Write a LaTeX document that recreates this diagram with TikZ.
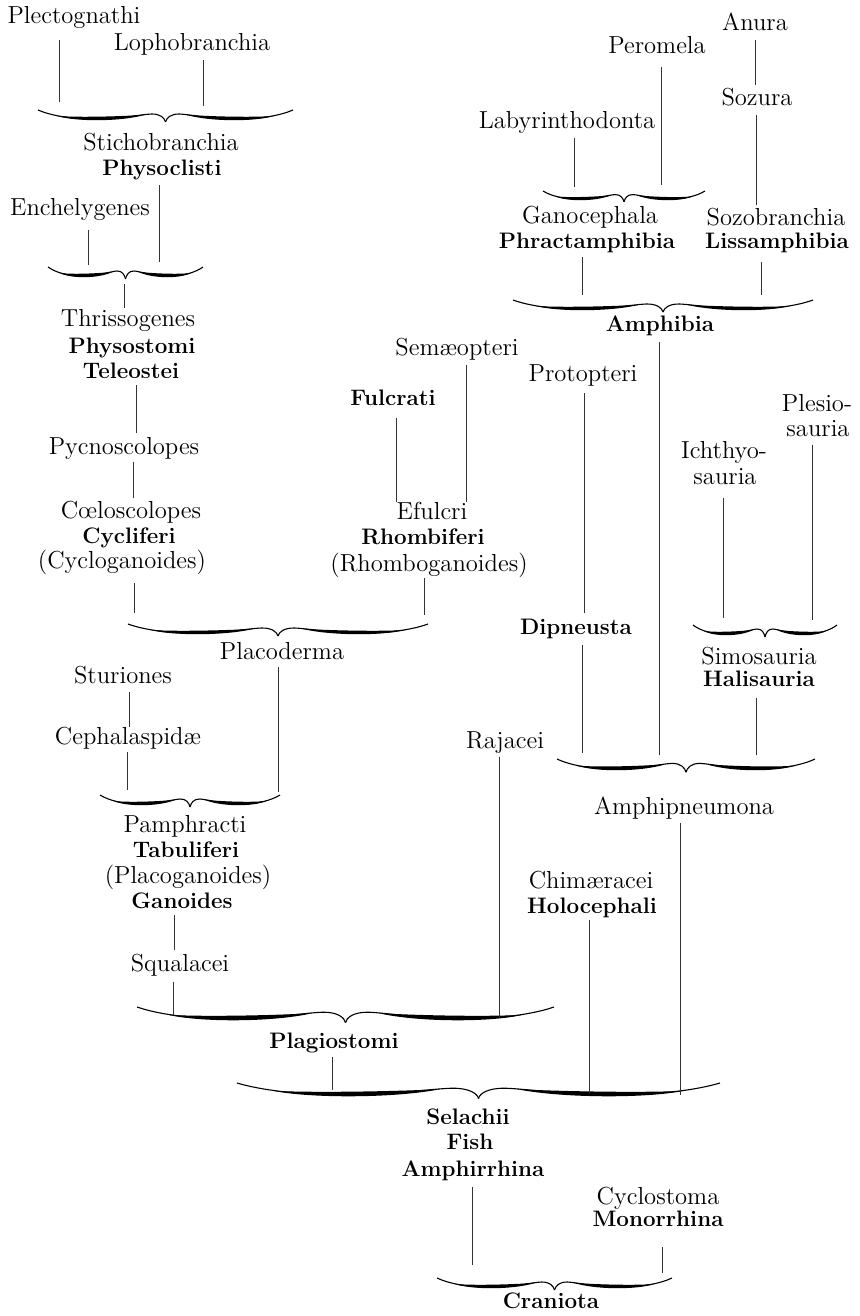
\documentclass[tikz,border=0pt]{standalone}
\tikzset{
 lab/.style={inner sep=0pt, anchor=base, font=\fontsize{12.3}{14}\selectfont},
 blab/.style={inner sep=0pt, anchor=base, font=\fontsize{11.2}{13}\selectfont\bfseries},
 ln/.style={line width=0.45pt, draw=black!80},
 brc/.style={line width=0.55pt, draw=black}
}
\newcommand{\hbrhalf}[5]{% end x, sign, half width, y, vertical scale
  \draw[brc] (#1,#4) .. controls ({#1+#2*0.1*#3},{#4+5.5*#5}) and ({#1+#2*0.25*#3},{#4+9*#5}) .. ({#1+#2*0.45*#3},{#4+9*#5})
    .. controls ({#1+#2*0.65*#3},{#4+9*#5}) and ({#1+#2*0.8*#3},{#4+4.5*#5}) .. ({#1+#2*0.89*#3},{#4+4*#5})
    .. controls ({#1+#2*0.96*#3},{#4+3.8*#5}) and ({#1+#2*(#3-1)},{#4+8*#5}) .. ({#1+#2*#3},{#4+12*#5});
  \fill[black] ({#1+#2*0.15*#3},{#4+6*#5}) .. controls ({#1+#2*0.3*#3},{#4+7.4*#5}) and ({#1+#2*0.6*#3},{#4+6.8*#5}) .. ({#1+#2*0.84*#3},{#4+4.8*#5})
    .. controls ({#1+#2*0.65*#3},{#4+11.8*#5}) and ({#1+#2*0.3*#3},{#4+11.8*#5}) .. cycle;
}
\newcommand{\hbr}[4]{% left x, right x, y of ends, vertical scale
  \pgfmathsetmacro{\bW}{(#2-#1)/2}
  \hbrhalf{#1}{1}{\bW}{#3}{#4}
  \hbrhalf{#2}{(-1)}{\bW}{#3}{#4}
}
\newcommand{\conn}[4]{% name, x, y top, y bottom
  \coordinate (#1t) at (#2,#3);
  \coordinate (#1b) at (#2,#4);
  \draw[ln] (#1t) -- (#1b);
}
\begin{document}
\begin{tikzpicture}[x=0.5pt,y=-0.5pt]
\useasboundingbox (0,0) rectangle (859,1316);
% ---------- labels ----------
\node[lab]  (plec)    at (74,24)   {Plectognathi};
\node[lab]  (loph)    at (192,51)  {Lophobranchia};
\node[lab]  (stich)   at (161,151) {Stichobranchia};
\node[blab] (physocl) at (162,176) {Physoclisti};
\node[lab]  (enchel)  at (80,216)  {Enchelygenes};
\node[lab]  (thriss)  at (128,326) {Thrissogenes};
\node[blab] (physost) at (132,353) {Physostomi};
\node[blab] (teleo)   at (131,378) {Teleostei};
\node[lab]  (pycno)   at (124,454) {Pycnoscolopes};
\node[lab]  (coelo)   at (131,518) {Cœloscolopes};
\node[blab] (cycli)   at (129,543) {Cycliferi};
\node[lab]  (cyclog)  at (122,568) {(Cycloganoides)};
\node[lab]  (placod)  at (282,659) {Placoderma};
\node[lab]  (sturi)   at (123,683) {Sturiones};
\node[lab]  (cepha)   at (128,744) {Cephalaspidæ};
\node[lab]  (pamph)   at (185,832) {Pamphracti};
\node[blab] (tabul)   at (186,857) {Tabuliferi};
\node[lab]  (placog)  at (188,883) {(Placoganoides)};
\node[blab] (ganoid)  at (182,908) {Ganoides};
\node[lab]  (squal)   at (180,971) {Squalacei};
\node[blab] (plagio)  at (334,1048) {Plagiostomi};
\node[blab] (selach)  at (468,1124) {Selachii};
\node[blab] (fish)    at (470,1149) {Fish};
\node[blab] (amphirr) at (473,1176) {Amphirrhina};
\node[lab]  (cyclost) at (658,1204) {Cyclostoma};
\node[blab] (monorr)  at (658,1226) {Monorrhina};
\node[blab] (cranio)  at (551,1308) {Craniota};
\node[lab]  (chimae)  at (591,888) {Chimæracei};
\node[blab] (holoc)   at (592,913) {Holocephali};
\node[lab]  (rajac)   at (505,748) {Rajacei};
\node[lab]  (amphip)  at (684,814) {Amphipneumona};
\node[blab] (dipn)    at (576,634) {Dipneusta};
\node[lab]  (simos)   at (759,664) {Simosauria};
\node[blab] (halis)   at (759,686) {Halisauria};
\node[lab]  (ichA)    at (724,458) {Ichthyo-};
\node[lab]  (ichB)    at (725,484) {sauria};
\node[lab]  (plesA)   at (817,411) {Plesio-};
\node[lab]  (plesB)   at (818,436) {sauria};
\node[lab]  (protop)  at (583,381) {Protopteri};
\node[lab]  (semae)   at (457,355) {Semæopteri};
\node[blab] (fulcr)   at (393,405) {Fulcrati};
\node[lab]  (efulc)   at (432,519) {Efulcri};
\node[blab] (rhombi)  at (423,544) {Rhombiferi};
\node[lab]  (rhombog) at (429,571) {(Rhomboganoides)};
\node[blab] (amphib)  at (660,331) {Amphibia};
\node[lab]  (ganoc)   at (590,224) {Ganocephala};
\node[blab] (phract)  at (587,249) {Phractamphibia};
\node[lab]  (sozob)   at (776,226) {Sozobranchia};
\node[blab] (lissam)  at (777,249) {Lissamphibia};
\node[lab]  (labyr)   at (567,129) {Labyrinthodonta};
\node[lab]  (perom)   at (657,54)  {Peromela};
\node[lab]  (anura)   at (755,31)  {Anura};
\node[lab]  (sozura)  at (757,106) {Sozura};
% ---------- braces ----------
\hbr{38}{293}{110}{1}
\hbr{48}{203}{267}{1}
\hbr{128}{428}{624}{1}
\hbr{100}{280}{795}{1}
\hbr{137}{554}{1007}{1.3}
\hbr{237}{720}{1083}{1.3}
\hbr{437}{672}{1278}{1}
\hbr{543}{705}{191}{0.9}
\hbr{513}{813}{300}{1}
\hbr{693}{837}{625}{1}
\hbr{557}{815}{759}{1.1}
% ---------- connectors ----------
\conn{c1}{59}{40}{102}
\conn{c2}{203}{60}{106}
\conn{c3}{159}{185}{262}
\conn{c4}{88}{230}{265}
\conn{c5}{124}{284}{308}
\conn{c6}{136}{385}{433}
\conn{c7}{133}{462}{498}
\conn{c8}{134}{583}{613}
\conn{c9}{424}{578}{615}
\conn{c10}{278}{667}{792}
\conn{c11}{129}{692}{727}
\conn{c12}{127}{752}{790}
\conn{c13}{174}{915}{950}
\conn{c14}{173}{982}{1015}
\conn{c15}{499}{757}{1017}
\conn{c16}{332}{1057}{1090}
\conn{c17}{589}{920}{1093}
\conn{c18}{680}{823}{1095}
\conn{c19}{472}{1187}{1265}
\conn{c20}{662}{1247}{1273}
\conn{c21}{755}{40}{85}
\conn{c22}{756}{115}{205}
\conn{c23}{661}{67}{185}
\conn{c24}{574}{138}{187}
\conn{c25}{582}{257}{295}
\conn{c26}{761}{262}{295}
\conn{c27}{659}{342}{755}
\conn{c28}{466}{365}{502}
\conn{c29}{396}{418}{502}
\conn{c30}{584}{393}{613}
\conn{c31}{582}{645}{753}
\conn{c32}{723}{498}{618}
\conn{c33}{812}{445}{620}
\conn{c34}{756}{698}{755}
\end{tikzpicture}
\end{document}
